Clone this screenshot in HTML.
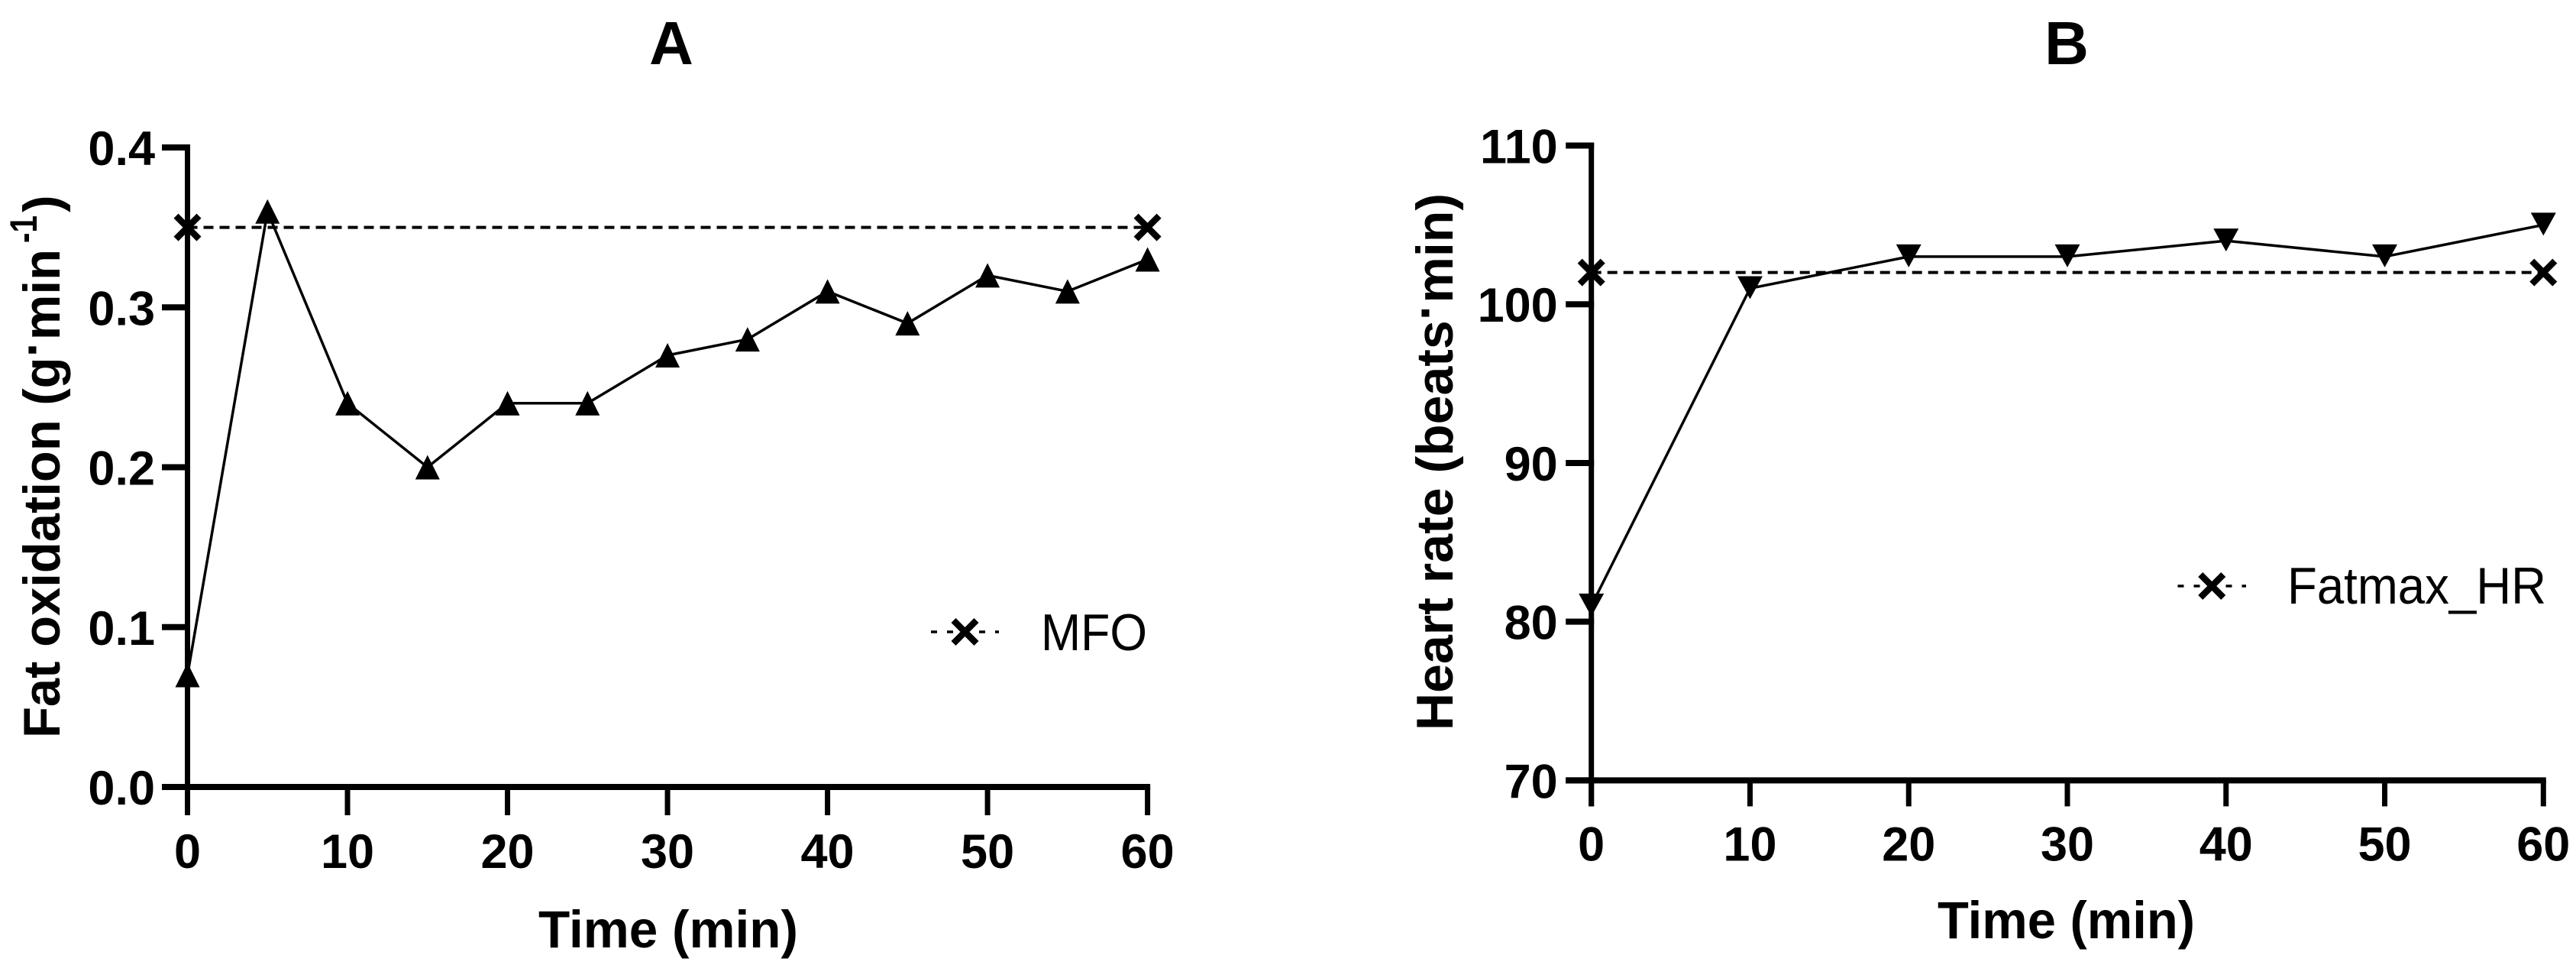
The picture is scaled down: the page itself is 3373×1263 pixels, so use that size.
<!DOCTYPE html>
<html lang="en">
<head>
<meta charset="utf-8">
<title>Fat oxidation and heart rate over time</title>
<style>
  html, body { margin: 0; padding: 0; background: #fff; width: 3373px; height: 1263px; overflow: hidden; }
  svg { display: block; }
  text { font-family: "Liberation Sans", Arial, sans-serif; fill: #000; }
  .b { font-weight: 700; }
</style>
</head>
<body>
<svg id="figure" xmlns="http://www.w3.org/2000/svg" width="3373" height="1263" viewBox="0 0 3373 1263">
  <rect x="0" y="0" width="3373" height="1263" fill="#fff"/>

  <text class="b" x="879" y="84" font-size="80" text-anchor="middle">A</text>
  <text class="b" x="2706" y="84" font-size="80" text-anchor="middle">B</text>

  <text class="b" x="705" y="1240" font-size="69" textLength="340" lengthAdjust="spacingAndGlyphs">Time (min)</text>
  <text class="b" x="2537" y="1228" font-size="69" textLength="337" lengthAdjust="spacingAndGlyphs">Time (min)</text>

  <g>
    <text class="b" transform="translate(78 966) rotate(-90)" font-size="68" textLength="640" lengthAdjust="spacingAndGlyphs">Fat oxidation (g<tspan dy="-13">·</tspan><tspan dy="13">min</tspan></text>
    <text class="b" transform="translate(48 318) rotate(-90)" font-size="50" textLength="36" lengthAdjust="spacingAndGlyphs">-1</text>
    <text class="b" transform="translate(78 278) rotate(-90)" font-size="68">)</text>
  </g>
  <text class="b" transform="translate(1902 956) rotate(-90)" font-size="68" textLength="703" lengthAdjust="spacingAndGlyphs">Heart rate (beats<tspan dy="-13">·</tspan><tspan dy="13">min)</tspan></text>

  <text x="1363" y="851" font-size="68" textLength="139" lengthAdjust="spacingAndGlyphs">MFO</text>
  <text x="2995" y="790" font-size="68" textLength="339" lengthAdjust="spacingAndGlyphs">Fatmax_HR</text>

  <g id="panel-a"></g>
  <g id="panel-b"></g>
</svg>

<script>
// ---- Panel A data ----
const fatTimes = [0, 5, 10, 15, 20, 25, 30, 35, 40, 45, 50, 55, 60];
const fatValues = [0.07, 0.36, 0.24, 0.20, 0.24, 0.24, 0.27, 0.28, 0.31, 0.29, 0.32, 0.31, 0.33];
const mfoTimes = [0, 60];
const mfoValues = [0.35, 0.35];
const fatXTicks = [0, 10, 20, 30, 40, 50, 60];
const fatYTicks = [0.0, 0.1, 0.2, 0.3, 0.4];
const fatYTickLabels = ["0.0", "0.1", "0.2", "0.3", "0.4"];

// ---- Panel B data ----
const hrTimes = [0, 10, 20, 30, 40, 50, 60];
const hrValues = [81, 101, 103, 103, 104, 103, 105];
const fatmaxTimes = [0, 60];
const fatmaxValues = [102, 102];
const hrXTicks = [0, 10, 20, 30, 40, 50, 60];
const hrYTicks = [70, 80, 90, 100, 110];
const hrYTickLabels = ["70", "80", "90", "100", "110"];

const SVG_NS = "http://www.w3.org/2000/svg";

// Axis functions
function xA(t) { return 245.5 + (t / 60) * (1502.6 - 245.5); }
function yA(v) { return 1030 - (v / 0.4) * (1030 - 193); }
function xB(t) { return 2083.7 + (t / 60) * (3330.3 - 2083.7); }
function yB(v) { return 1021.4 - ((v - 70) / 40) * (1021.4 - 190.5); }

function addLine(parent, name, x1, y1, x2, y2, width, cap) {
  const el = document.createElementNS(SVG_NS, "line");
  
  
  el.setAttribute("x1", x1);
  el.setAttribute("y1", y1);
  el.setAttribute("x2", x2);
  el.setAttribute("y2", y2);
  el.setAttribute("stroke", "#000");
  el.setAttribute("stroke-width", width);
  el.setAttribute("stroke-linecap", cap || "butt");
  parent.appendChild(el);
  return el;
}

function addLabel(parent, name, x, y, anchor, str) {
  const el = document.createElementNS(SVG_NS, "text");
  
  
  el.setAttribute("x", x);
  el.setAttribute("y", y);
  el.setAttribute("class", "b");
  el.setAttribute("font-size", "63");
  el.setAttribute("text-anchor", anchor);
  el.textContent = str;
  parent.appendChild(el);
  return el;
}

function addPolyline(parent, name, pts, width, dash) {
  const el = document.createElementNS(SVG_NS, "polyline");
  
  
  el.setAttribute("points", pts);
  el.setAttribute("fill", "none");
  el.setAttribute("stroke", "#000");
  el.setAttribute("stroke-width", width);
  if (dash) el.setAttribute("stroke-dasharray", dash);
  parent.appendChild(el);
  return el;
}

function addTriangle(parent, name, x, y, up) {
  const el = document.createElementNS(SVG_NS, "polygon");
  
  
  const p = up
    ? [[x, y - 16], [x + 16, y + 16], [x - 16, y + 16]]
    : [[x - 16.5, y - 16], [x + 16.5, y - 16], [x, y + 14]];
  el.setAttribute("points", p.map(function (q) { return q.join(","); }).join(" "));
  el.setAttribute("fill", "#000");
  parent.appendChild(el);
  return el;
}

function addCross(parent, name, x, y) {
  const el = document.createElementNS(SVG_NS, "path");
  
  
  const r = 15;
  el.setAttribute("d", "M" + (x - r) + " " + (y - r) + "L" + (x + r) + " " + (y + r) + "M" + (x - r) + " " + (y + r) + "L" + (x + r) + " " + (y - r));
  el.setAttribute("stroke", "#000");
  el.setAttribute("stroke-width", "8.5");
  el.setAttribute("fill", "none");
  parent.appendChild(el);
  return el;
}

function drawPanel(cfg) {
  const g = document.getElementById(cfg.id);
  const x = cfg.x, y = cfg.y;
  const x0 = x(cfg.xTicks[0]);
  const xEnd = x(cfg.xTicks[cfg.xTicks.length - 1]);
  const yBase = y(cfg.yTicks[0]);
  const yTop = y(cfg.yTicks[cfg.yTicks.length - 1]);

  // y axis spine and ticks
  addLine(g, cfg.prefix + "-y-axis", x0, yTop - 4, x0, yBase + cfg.tickLen, 7);
  cfg.yTicks.forEach(function (v, i) {
    addLine(g, cfg.prefix + "-y-tick-" + cfg.yLabels[i], x0 - 33.5, y(v), x0 + 3.5, y(v), 8);
    addLabel(g, cfg.prefix + "-y-tick-label-" + cfg.yLabels[i], x0 - cfg.yLabelGap, y(v) + 23, "end", cfg.yLabels[i]);
  });

  // x axis spine and ticks
  addLine(g, cfg.prefix + "-x-axis", x0 - 33.5, yBase, xEnd + 3.5, yBase, 8);
  cfg.xTicks.forEach(function (t) {
    addLine(g, cfg.prefix + "-x-tick-" + t, x(t), yBase, x(t), yBase + cfg.tickLen, 7);
    addLabel(g, cfg.prefix + "-x-tick-label-" + t, x(t), yBase + cfg.xLabelDy, "middle", String(t));
  });

  // reference (dashed) series
  const refPts = cfg.refT.map(function (t, i) { return x(t) + "," + y(cfg.refV[i]); }).join(" ");
  addPolyline(g, cfg.prefix + "-reference-line", refPts, 4, "13 8");
  cfg.refT.forEach(function (t, i) {
    addCross(g, cfg.prefix + "-reference-point-" + t, x(t), y(cfg.refV[i]));
  });

  // main series
  const pts = cfg.times.map(function (t, i) { return x(t) + "," + y(cfg.values[i]); }).join(" ");
  addPolyline(g, cfg.prefix + "-series-line", pts, 3.5);
  cfg.times.forEach(function (t, i) {
    addTriangle(g, cfg.prefix + "-point-" + t, x(t), y(cfg.values[i]), cfg.up);
  });

  // legend sample
  addLine(g, cfg.prefix + "-legend-line", cfg.legend[0], cfg.legend[2], cfg.legend[1], cfg.legend[2], 3.5).setAttribute("stroke-dasharray", "8 13");
  addCross(g, cfg.prefix + "-legend-marker", (cfg.legend[0] + cfg.legend[1]) / 2, cfg.legend[2]);
}

drawPanel({
  id: "panel-a", prefix: "panel-a", x: xA, y: yA,
  times: fatTimes, values: fatValues, refT: mfoTimes, refV: mfoValues,
  xTicks: fatXTicks, yTicks: fatYTicks, yLabels: fatYTickLabels,
  up: true, tickLen: 37, yLabelGap: 42.5, xLabelDy: 106, legend: [1219, 1308, 827]
});

drawPanel({
  id: "panel-b", prefix: "panel-b", x: xB, y: yB,
  times: hrTimes, values: hrValues, refT: fatmaxTimes, refV: fatmaxValues,
  xTicks: hrXTicks, yTicks: hrYTicks, yLabels: hrYTickLabels,
  up: false, tickLen: 34, yLabelGap: 44, xLabelDy: 105, legend: [2851.5, 2941, 767]
});
</script>
</body>
</html>
